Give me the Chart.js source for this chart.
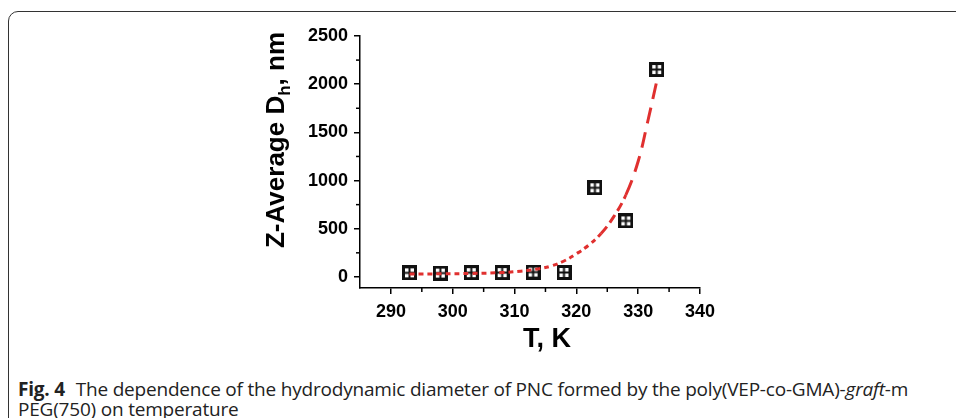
<!DOCTYPE html>
<html>
<head>
<meta charset="utf-8">
<script src="https://cdn.jsdelivr.net/npm/chart.js@4"></script>
<style>
  html, body { margin: 0; padding: 0; background: #fff; }
  body { width: 956px; height: 418px; overflow: hidden; position: relative; }
  #frame {
    position: absolute; left: 8px; top: 11px; width: 1000px; height: 500px;
    border: 1.3px solid #333; border-radius: 10px; box-sizing: border-box;
  }
  #chart { position: absolute; left: 0; top: 0; }
  #caption {
    position: absolute; left: 18px; top: 379px; width: 935px;
    font-family: "Open Sans", sans-serif; font-size: 19px; line-height: 20px;
    color: #222; letter-spacing: -0.2px; white-space: nowrap;
  }
  #caption b { font-weight: 700; margin-right: 6px; }
</style>
</head>
<body>
<div id="frame"></div>
<canvas id="chart" width="956" height="360"></canvas>
<div id="caption"><b>Fig. 4</b> The dependence of the hydrodynamic diameter of PNC formed by the poly(VEP-co-GMA)-<i>graft</i>-m<br>PEG(750) on temperature</div>
<script>
// measured points
const temps = [293, 298, 303, 308, 313, 318, 323, 328, 333];
const diameters = [42, 40, 44, 45, 50, 46, 925, 581, 2152];

// red dashed fit
const fitT = [293, 298, 303, 308, 311, 314, 316, 318, 320, 322, 324, 326, 328, 330, 331.5, 333];
const fitD = [30, 32, 36, 45, 60, 85, 115, 165, 240, 330, 450, 620, 850, 1200, 1600, 2030];

const yTicks = [0, 500, 1000, 1500, 2000, 2500];
const yMinor = [250, 750, 1250, 1750, 2250];
const xTicks = [290, 300, 310, 320, 330, 340];
const xMinor = [295, 305, 315, 325, 335];

// square marker with a cross inside
function makeMarker() {
  const c = document.createElement("canvas");
  c.width = 15; c.height = 15;
  const g = c.getContext("2d");
  g.fillStyle = "#111";
  g.fillRect(0, 0, 15, 15);
  g.fillStyle = "#fff";
  g.fillRect(3, 3, 9, 9);
  g.fillStyle = "#111";
  g.fillRect(6.5, 3, 2, 9);
  g.fillRect(3, 6.5, 9, 2);
  return c;
}

const extras = {
  id: "extras",
  afterDraw(chart) {
    const ctx = chart.ctx;
    const xs = chart.scales.x, ys = chart.scales.y;
    const area = chart.chartArea;
    ctx.save();
    ctx.strokeStyle = "#000";
    ctx.lineWidth = 1.5;
    yMinor.forEach(v => {
      const py = ys.getPixelForValue(v);
      ctx.beginPath(); ctx.moveTo(area.left - 4, py); ctx.lineTo(area.left, py); ctx.stroke();
    });
    xMinor.forEach(v => {
      const px = xs.getPixelForValue(v);
      ctx.beginPath(); ctx.moveTo(px, area.bottom); ctx.lineTo(px, area.bottom + 4); ctx.stroke();
    });

    // x title
    ctx.fillStyle = "#000";
    ctx.font = "bold 27px 'Liberation Sans', Arial, sans-serif";
    ctx.textAlign = "center";
    ctx.textBaseline = "alphabetic";
    ctx.fillText("T, K", 547, 347);

    // y title with subscript
    const big = "bold 26px 'Liberation Sans', Arial, sans-serif";
    const small = "bold 17px 'Liberation Sans', Arial, sans-serif";
    const p1 = "Z-Average D", sub = "h", p2 = ", nm";
    ctx.font = big;
    const w1 = ctx.measureText(p1).width, w3 = ctx.measureText(p2).width;
    ctx.font = small;
    const w2 = ctx.measureText(sub).width;
    const total = w1 + w2 + w3;
    ctx.translate(284, 140);
    ctx.rotate(-Math.PI / 2);
    ctx.textAlign = "left";
    let x = -total / 2;
    ctx.font = big; ctx.fillText(p1, x, 0); x += w1;
    ctx.font = small; ctx.fillText(sub, x, 6); x += w2;
    ctx.font = big; ctx.fillText(p2, x, 0);
    ctx.restore();
  }
};

const tickFont = { family: "'Liberation Sans', Arial, sans-serif", size: 18, weight: "bold" };

new Chart(document.getElementById("chart"), {
  type: "scatter",
  data: {
    datasets: [
      {
        type: "line",
        data: fitT.map((t, i) => ({ x: t, y: fitD[i] })),
        borderColor: "#e0302f",
        borderWidth: 3,
        pointRadius: 0,
        tension: 0.4,
        fill: false,
        segment: {
          // flat part dotted, steep part long dashes
          borderDash: c => {
            const dx = Math.abs(c.p1.x - c.p0.x), dy = Math.abs(c.p1.y - c.p0.y);
            const s = dy / dx;
            return s > 2 ? [16, 9] : (s > 1.1 ? [9, 5] : [5, 4]);
          }
        }
      },
      {
        data: temps.map((t, i) => ({ x: t, y: diameters[i] })),
        pointStyle: makeMarker(),
        pointRadius: 7.5
      }
    ]
  },
  options: {
    responsive: false,
    animation: false,
    layout: { padding: { top: 36, right: 256, left: 0, bottom: 0 } },
    plugins: { legend: { display: false }, tooltip: { enabled: false } },
    scales: {
      x: {
        type: "linear",
        min: 285, max: 340,
        afterBuildTicks: s => { s.ticks = xTicks.map(v => ({ value: v })); },
        afterFit: s => { s.height = 72; },
        grid: { drawOnChartArea: false, drawTicks: true, tickLength: 6, color: "#000", lineWidth: 1.5 },
        border: { display: true, color: "#000", width: 1.5 },
        ticks: { font: tickFont, color: "#000", padding: 7, maxRotation: 0, callback: v => String(v) }
      },
      y: {
        type: "linear",
        min: -115, max: 2500,
        afterBuildTicks: s => { s.ticks = yTicks.map(v => ({ value: v })); },
        afterFit: s => { s.width = 360; },
        grid: { drawOnChartArea: false, drawTicks: true, tickLength: 6, color: "#000", lineWidth: 1.5 },
        border: { display: true, color: "#000", width: 1.5 },
        ticks: { font: tickFont, color: "#000", padding: 6, callback: v => String(v) }
      }
    }
  },
  plugins: [extras]
});
</script>
</body>
</html>
